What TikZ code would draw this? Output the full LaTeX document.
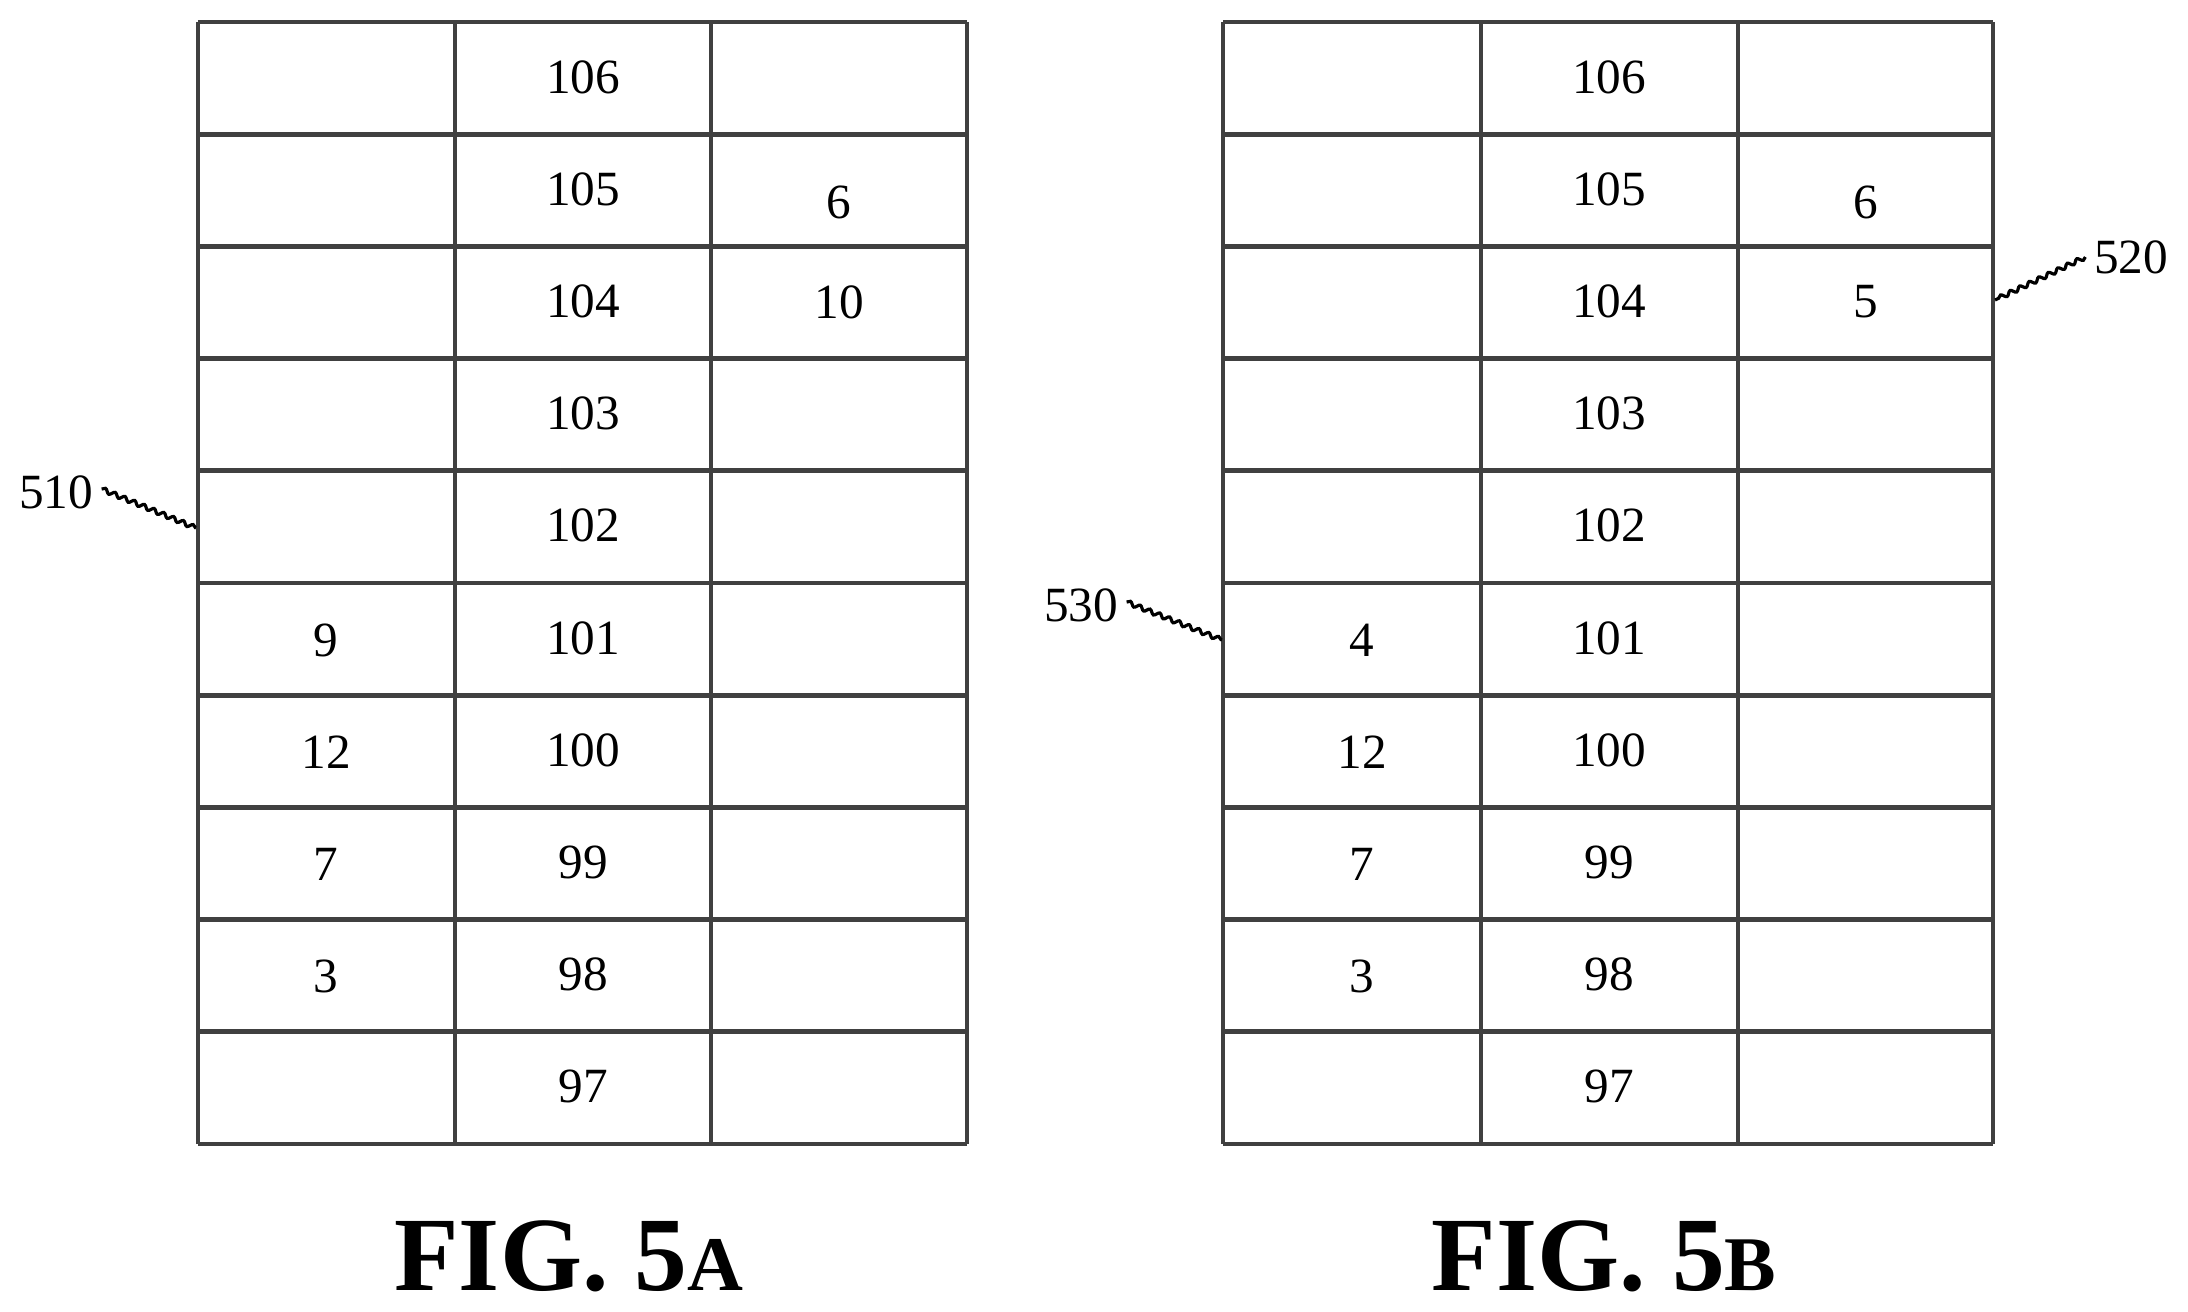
\documentclass[tikz,border=0pt]{standalone}
\usepackage{fontspec}
\setmainfont{Liberation Serif}
\usetikzlibrary{decorations.pathmorphing}
\tikzset{
  gridline/.style={line width=1.4pt,color=black!75},
  cell/.style={font=\fontsize{14}{16}\selectfont,inner sep=0pt},
  leader/.style={line width=0.9pt,decorate,decoration={snake,amplitude=0.6pt,segment length=3pt}},
  figlabel/.style={font=\bfseries\fontsize{30}{36}\selectfont,inner sep=0pt,anchor=base}
}
\newcommand{\smallcap}[1]{{\fontsize{22}{26}\selectfont #1}}
\begin{document}
\begin{tikzpicture}[x=0.01cm,y=-0.01cm]
\useasboundingbox (0,0) rectangle (2188,1311);
% FIG. 5A grid
\foreach \i in {0,...,10} \draw[gridline] (198,{22+112.2*\i})--(967,{22+112.2*\i});
\foreach \x in {198,455,711,967} \draw[gridline] (\x,22)--(\x,1144);
% FIG. 5B grid
\foreach \i in {0,...,10} \draw[gridline] (1223,{22+112.2*\i})--(1993,{22+112.2*\i});
\foreach \x in {1223,1481,1738,1993} \draw[gridline] (\x,22)--(\x,1144);
% middle columns
\foreach \v [count=\i from 0] in {106,105,...,97} {
  \node[cell] (a\v) at (583,{77+112.2*\i}) {\v};
  \node[cell] (b\v) at (1609,{77+112.2*\i}) {\v};
}
% left columns
\foreach \v/\r in {9/5,12/6,7/7,3/8} \node[cell] (al\r) at (326,{79+112.2*\r}) {\v};
\foreach \v/\r in {4/5,12/6,7/7,3/8} \node[cell] (bl\r) at (1362,{79+112.2*\r}) {\v};
% right columns
\node[cell] (ar1) at (839,202) {6};
\node[cell] (ar2) at (839,302) {10};
\node[cell] (br1) at (1866,202) {6};
\node[cell] (br2) at (1866,302) {5};
% reference numerals
\node[cell] (n510) at (56,492) {510};
\coordinate (e510) at (196,528);
\draw[leader] (n510.east)++(8,-3) -- (e510);
\node[cell] (n530) at (1081,605) {530};
\coordinate (e530) at (1222,640);
\draw[leader] (n530.east)++(8,-3) -- (e530);
\node[cell] (n520) at (2131,257) {520};
\coordinate (e520) at (1995,300);
\draw[leader] (n520.west)++(-8,0) -- (e520);
% captions
\node[figlabel] (figA) at (569,1290) {FIG. 5\smallcap{A}};
\node[figlabel] (figB) at (1604,1290) {FIG. 5\smallcap{B}};
\end{tikzpicture}
\end{document}
